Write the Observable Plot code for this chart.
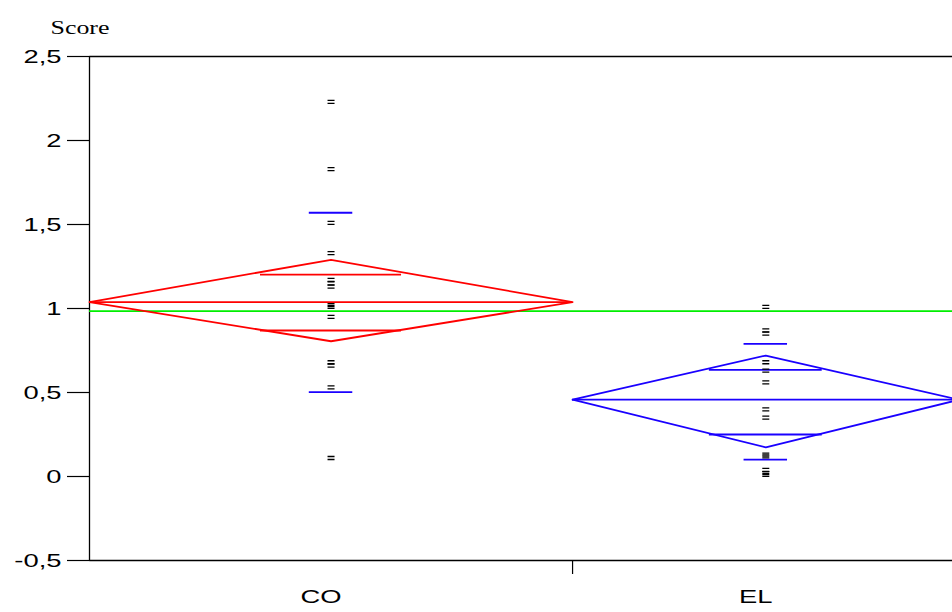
<!DOCTYPE html>
<html>
<head>
<meta charset="utf-8">
<script src="https://cdn.jsdelivr.net/npm/d3@7"></script>
<script src="https://cdn.jsdelivr.net/npm/@observablehq/plot@0.6"></script>
<style>
  html, body { margin: 0; padding: 0; background: white; overflow: hidden; }
</style>
</head>
<body>
<div id="chart"></div>
<script>
// ---- data ----
const groups = ["CO", "EL"];
const groupWeights = [20, 16];               // relative group widths (sample-size based)
const coScores = [2.23, 1.83, 1.51, 1.33, 1.17, 1.15, 1.13, 1.02, 1.01, 0.95, 0.68, 0.66, 0.53, 0.11];
const elScores = [1.01, 0.87, 0.85, 0.68, 0.63, 0.56, 0.40, 0.35, 0.13, 0.12, 0.04, 0.02, 0.01];
const groupMeans   = [1.038, 0.457];
const ciUpper      = [1.29, 0.72];
const ciLower      = [0.805, 0.174];
const overlapUpper = [1.202, 0.635];
const overlapLower = [0.869, 0.25];
const sdUpper      = [1.57, 0.79];
const sdLower      = [0.502, 0.101];
const grandMean = 0.984;
const yTicks = [-0.5, 0, 0.5, 1, 1.5, 2, 2.5];
const groupColors = ["#ff0000", "#1a00ff"];
const sdColor = "#1a00ff";
const grandMeanColor = "#00ee00";
const yLabel = "Score";

// ---- derived tables ----
const starts = groupWeights.map((w, i) => d3.sum(groupWeights.slice(0, i)));
const stats = groups.map((g, i) => ({
  group: g,
  left: starts[i],
  right: starts[i] + groupWeights[i],
  center: starts[i] + groupWeights[i] / 2,
  w: groupWeights[i],
  mean: groupMeans[i],
  ciU: ciUpper[i], ciL: ciLower[i],
  ovU: overlapUpper[i], ovL: overlapLower[i],
  sdU: sdUpper[i], sdL: sdLower[i],
  color: groupColors[i]
}));
const diamond = stats.flatMap(s => [
  {group: s.group, x: s.left, y: s.mean},
  {group: s.group, x: s.center, y: s.ciU},
  {group: s.group, x: s.right, y: s.mean},
  {group: s.group, x: s.center, y: s.ciL},
  {group: s.group, x: s.left, y: s.mean}
]);
const overlaps = stats.flatMap(s => [s.ovU, s.ovL].map(v => ({...s, v})));
const sds = stats.flatMap(s => [s.sdU, s.sdL].map(v => ({...s, v})));
const points = [
  ...coScores.map(v => ({group: "CO", v, x: stats[0].center})),
  ...elScores.map(v => ({group: "EL", v, x: stats[1].center}))
];
const colorOf = g => groupColors[groups.indexOf(g)];
const total = d3.sum(groupWeights);
const xMax = total - 0.27;
const yMin = yTicks[0], yMax = yTicks[yTicks.length - 1];
// open frame: top, left and bottom sides as one polyline
const frameSides = [
  {x: xMax, y: yMax}, {x: 0, y: yMax}, {x: 0, y: yMin}, {x: xMax, y: yMin}
];

const dashPair = {
  draw(ctx) {
    ctx.moveTo(-3.5, -1.5); ctx.lineTo(3.5, -1.5);
    ctx.moveTo(-3.5, 1.5);  ctx.lineTo(3.5, 1.5);
  }
};

const chart = Plot.plot({
  width: 952,
  height: 612,
  marginLeft: 89,
  marginRight: 0,
  marginTop: 56,
  marginBottom: 52,
  x: {domain: [0, xMax], axis: null},
  y: {domain: [yMin, yMax], axis: null},
  style: {fontFamily: "'Liberation Sans', Arial, sans-serif", fontSize: "19px", background: "white", color: "black"},
  marks: [
    Plot.line(frameSides, {x: "x", y: "y", stroke: "black", strokeWidth: 1.3}),
    Plot.axisY({ticks: yTicks, tickSize: 22, tickPadding: 6, tickFormat: d => String(d).replace(".", ","), label: null, fontSize: 19, strokeWidth: 1.2}),
    Plot.axisX({ticks: [starts[1]], tickSize: 14, tickFormat: () => "", label: null, strokeWidth: 1.2}),
    Plot.axisX({ticks: stats.map(s => s.center), tickSize: 0, tickPadding: 29, dx: -10, tickFormat: x => stats.find(s => s.center === x).group, label: null, fontSize: 19}),
    // grand mean
    Plot.ruleY([grandMean], {stroke: grandMeanColor, strokeWidth: 1.8}),
    // diamonds
    Plot.line(diamond, {x: "x", y: "y", z: "group", stroke: d => colorOf(d.group), strokeWidth: 1.8, curve: "linear"}),
    Plot.ruleY(stats, {y: "mean", x1: "left", x2: "right", stroke: "color", strokeWidth: 1.8}),
    Plot.ruleY(overlaps, {y: "v", x1: d => d.center - 0.146 * d.w, x2: d => d.center + 0.146 * d.w, stroke: "color", strokeWidth: 1.8}),
    Plot.ruleY(sds, {y: "v", x1: d => d.center - 0.9, x2: d => d.center + 0.9, stroke: sdColor, strokeWidth: 1.8}),
    // points
    Plot.dot(points, {x: "x", y: "v", symbol: dashPair, stroke: "black", strokeWidth: 1.3, fill: "none", r: 3}),
    // y label
    Plot.text([yLabel], {frameAnchor: "top-left", dx: -9.5, dy: -35, textAnchor: "middle", fontFamily: "'Liberation Serif', 'Times New Roman', serif", fontSize: 18})
  ]
});

document.getElementById("chart").appendChild(chart);

// the reference's text is horizontally stretched
chart.querySelectorAll("text").forEach(t => {
  const len = t.getComputedTextLength();
  if (len > 0) {
    t.setAttribute("textLength", (len * 1.44).toFixed(1));
    t.setAttribute("lengthAdjust", "spacingAndGlyphs");
  }
});
</script>
</body>
</html>
